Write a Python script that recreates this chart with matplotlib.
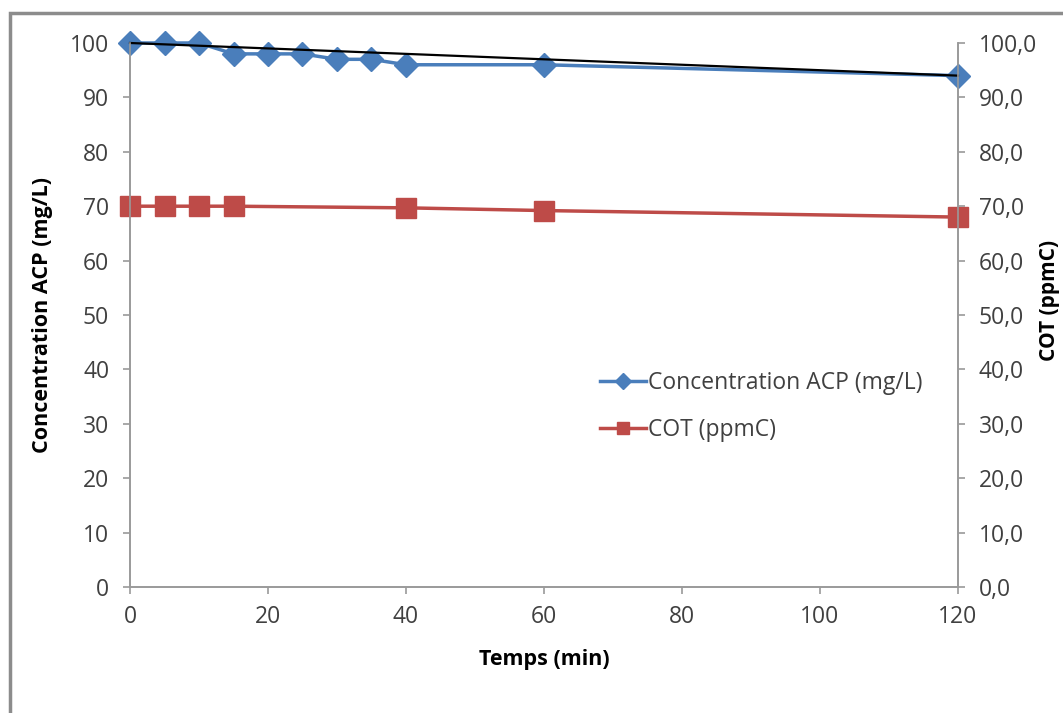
import matplotlib.pyplot as plt
from matplotlib.patches import Rectangle
from matplotlib.ticker import FuncFormatter

# data
temps_acp = [0, 5, 10, 15, 20, 25, 30, 35, 40, 60, 120]
conc_acp = [100, 100, 100, 98, 98, 98, 97, 97, 96, 96, 94]

temps_cot = [0, 5, 10, 15, 40, 60, 120]
cot = [70, 70, 70, 70, 69.7, 69.2, 68]

# black trend line
trend_x = [0, 120]
trend_y = [100, 94]

blue = "#4A7EBB"
red = "#BE4B48"
axis_grey = "#9A9A9A"
text_col = "#404040"

plt.rcParams['font.family'] = ['Open Sans', 'DejaVu Sans']

fig = plt.figure(figsize=(10.63, 7.13), dpi=100)
ax = fig.add_axes([0.1223, 0.1767, 0.7789, 0.763])
ax2 = ax.twinx()

# grey frame around the chart area (like the Excel chart border)
fig.patches.append(Rectangle((10 / 1063, -0.05), 1.1, (713 - 13) / 713 + 0.05,
                             transform=fig.transFigure, fill=False,
                             edgecolor="#8C8C8C", linewidth=2.5))

ax.plot(temps_acp, conc_acp, color=blue, linewidth=2.5, marker="D", markersize=12.5,
        label="Concentration ACP (mg/L)", zorder=3, clip_on=False)
ax.plot(temps_cot, cot, color=red, linewidth=2.5, marker="s", markersize=14,
        label="COT (ppmC)", zorder=3, clip_on=False)
ax.plot(trend_x, trend_y, color="black", linewidth=1.6, zorder=4, clip_on=False)

ax.set_xlim(0, 120)
ax.set_ylim(0, 100)
ax2.set_ylim(0, 100)
ax.set_xticks(range(0, 121, 20))
ax.set_yticks(range(0, 101, 10))
ax2.set_yticks(range(0, 101, 10))
ax2.yaxis.set_major_formatter(FuncFormatter(lambda v, p: f"{v:.1f}".replace(".", ",")))

for a in (ax, ax2):
    for s in a.spines.values():
        s.set_color(axis_grey)
        s.set_linewidth(1.2)
    a.spines["top"].set_visible(False)
    a.tick_params(colors=axis_grey, labelcolor=text_col, labelsize=16.5, length=5, width=1.2)
ax.tick_params(axis="y", pad=10)
ax.tick_params(axis="x", pad=8)
ax2.tick_params(axis="y", pad=10)

ax.set_xlabel("Temps (min)", fontsize=15.5, fontweight="bold", color="black", labelpad=14)
ax.set_ylabel("Concentration ACP (mg/L)", fontsize=15.5, fontweight="bold", color="black", labelpad=12)
fig.text(1049 / 1063, 1 - 300 / 713, "COT (ppmC)", rotation=90, fontsize=15,
         fontweight="bold", ha="center", va="center")

leg = ax.legend(loc="center left", bbox_to_anchor=(0.557, 0.332), frameon=False,
                fontsize=16.5, handlelength=2.0, handletextpad=0.1, labelspacing=1.0,
                markerscale=0.65, borderaxespad=0)
for t in leg.get_texts():
    t.set_color(text_col)

fig.savefig("out.png", dpi=100)
